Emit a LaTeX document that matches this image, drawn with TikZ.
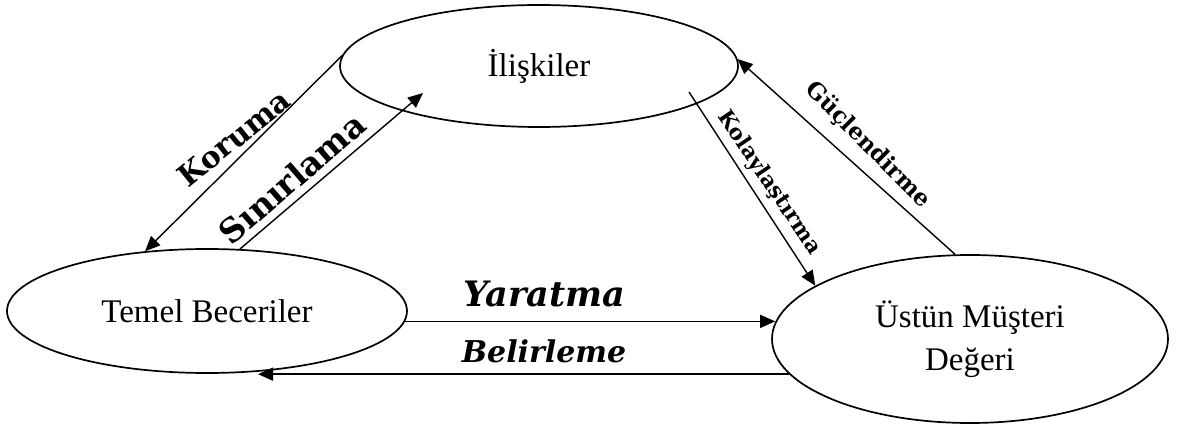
\documentclass[tikz,border=0pt]{standalone}
\usepackage{fontspec}
\setmainfont{Liberation Serif}
\newfontfamily\labelfont{DejaVu Serif}
\usetikzlibrary{shapes.geometric,arrows.meta}

\begin{document}
\begin{tikzpicture}[x=1pt,y=-1pt,
  bubble/.style={draw, ellipse, line width=1.7pt, inner sep=0pt,
    font=\fontsize{33}{43}\selectfont, align=center},
  link/.style={line width=1.4pt, -{Triangle[length=15pt,width=13pt]}},
  tag/.style={font=\labelfont\bfseries\fontsize{#1}{#1}\selectfont, inner sep=0pt},
  itag/.style={font=\labelfont\bfseries\itshape\fontsize{#1}{#1}\selectfont, inner sep=0pt},
]
\useasboundingbox[fill=white] (0,0) rectangle (1178,427);

% the three ellipses
\node[bubble, minimum width=398pt, minimum height=122pt] (rel) at (539,66) {İlişkiler};
\node[bubble, minimum width=400pt, minimum height=124pt] (tb) at (207,311) {Temel Beceriler};
\node[bubble, minimum width=396pt, minimum height=168pt] (ust) at (970,339) {Üstün Müşteri\\Değeri};

% arrow ends lying inside the top ellipse
\coordinate (sinirEnd) at (423,93);
\coordinate (kolayStart) at (689,92);

% connectors
\draw[link] (rel.177) -- (tb.136);
\draw[link] (tb.62) -- (sinirEnd);
\draw[link] (kolayStart) -- (ust.161);
\draw[link] (ust.100) -- (rel.2);
\draw[link] (tb.-3) -- (ust.175 |- tb.-3);
\draw[link] (ust.191) -- (tb.-50 |- ust.191);

% connector labels
\node[tag=30, rotate=39] (koruma) at (234,138) {Koruma};
\node[tag=33, rotate=41] (sinir) at (292,178) {Sınırlama};
\node[tag=21.5, rotate=-56] (kolay) at (769,183) {Kolaylaştırma};
\node[tag=23, rotate=-45] (guc) at (868,145) {Güçlendirme};
\node[itag=35] (yarat) at (544,294) {Yaratma};
\node[itag=30] (belir) at (544,351) {Belirleme};
\end{tikzpicture}
\end{document}
